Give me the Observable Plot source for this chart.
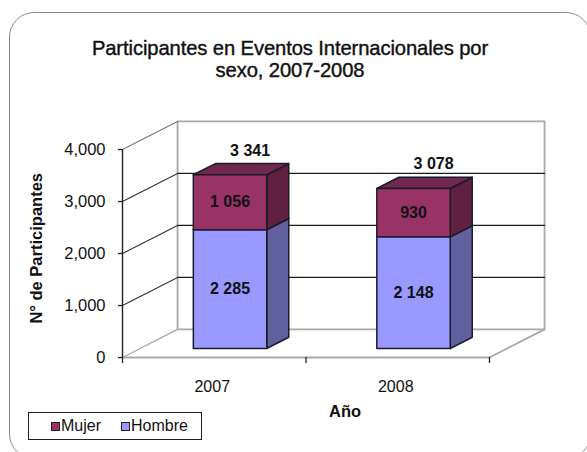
<!DOCTYPE html>
<html>
<head>
<meta charset="utf-8">
<script src="https://cdn.jsdelivr.net/npm/d3@7"></script>
<script src="https://cdn.jsdelivr.net/npm/@observablehq/plot@0.6"></script>
<style>
html,body{margin:0;padding:0;background:#fff;}
#page{position:relative;width:587px;height:452px;overflow:hidden;font-family:"Liberation Sans",Arial,sans-serif;color:#111;}
#frame{position:absolute;left:9px;top:12px;width:582px;height:447px;border:1.5px solid #8c8c8c;border-radius:25px;box-sizing:border-box;}
#title{position:relative;height:85px;box-sizing:border-box;padding-top:37px;text-align:center;font-size:20.2px;line-height:22px;font-weight:400;letter-spacing:-0.1px;-webkit-text-stroke:0.4px #111;}
#title div{width:580px;}
svg{display:block;position:relative;}
#legend{position:absolute;left:28px;top:412px;width:174px;height:28px;box-sizing:border-box;border:1.5px solid #222;background:#fff;display:flex;align-items:center;padding-left:22px;gap:20px;font-size:16px;}
#legend span.k{display:inline-flex;align-items:center;}
#legend i{display:inline-block;width:7px;height:7px;border:1.5px solid #222;margin-right:1px;}
</style>
</head>
<body>
<div id="page">
  <div id="frame"></div>
  <div id="title"></div>
  <div id="chart"></div>
  <div id="legend"></div>
</div>
<script>
const titleLines = ["Participantes en Eventos Internacionales por", "sexo, 2007-2008"];
const years = ["2007", "2008"];
const hombre = [2285, 2148];
const mujer = [1056, 930];
const totals = [3341, 3078];
const yTicks = [0, 1000, 2000, 3000, 4000];
const xEdges = [0, 1, 2];
const legendItems = [["Mujer", "#993366"], ["Hombre", "#9999ff"]];
const yLabel = "N° de Participantes";
const xLabel = "Año";

// oblique 3-D projection, in data units
const shearX = 0.30, shearY = 540;
const P = (c, v, d) => ({x: c + d * shearX, y: v + d * shearY});
const fmt = d3.formatLocale({decimal: ".", thousands: " ", grouping: [3], currency: ["", ""]}).format(",");

const barFrom = 0.29, barTo = 0.69, dFront = 0.32, dBack = 0.72;
const line = (pts, o) => Plot.line(pts, {x: "x", y: "y", ...o});
const wallColor = "#a8a8a8", gridColor = "#1c1c1c";

function box(i, v0, v1, front, side, top) {
  const a = i + barFrom, b = i + barTo, s = {stroke: "#1b1b2b", strokeWidth: 1.5};
  return [
    line([P(b, v0, dFront), P(b, v0, dBack), P(b, v1, dBack), P(b, v1, dFront), P(b, v0, dFront)], {fill: side, ...s}),
    line([P(a, v1, dFront), P(a, v1, dBack), P(b, v1, dBack), P(b, v1, dFront), P(a, v1, dFront)], {fill: top, ...s}),
    line([P(a, v0, dFront), P(b, v0, dFront), P(b, v1, dFront), P(a, v1, dFront), P(a, v0, dFront)], {fill: front, ...s})
  ];
}

const marks = [];
// walls and floor
marks.push(line([P(0, 0, 1), P(0, 4000, 1), P(2, 4000, 1), P(2, 0, 1), P(0, 0, 1)], {stroke: wallColor, strokeWidth: 1.8}));
marks.push(line([P(0, 0, 0), P(2, 0, 0), P(2, 0, 1)], {stroke: wallColor, strokeWidth: 1.8}));
marks.push(line([P(0, 0, 0), P(0, 0, 1)], {stroke: wallColor, strokeWidth: 1.3}));
// gridlines
for (const t of yTicks.slice(1)) {
  marks.push(line([P(0, t, 0), P(0, t, 1)], {stroke: t === 4000 ? "#777" : "#333", strokeWidth: 1.1}));
  if (t < 4000) marks.push(line([P(0, t, 1), P(2, t, 1)], {stroke: gridColor, strokeWidth: 1.2}));
}
// bars
years.forEach((y, i) => {
  marks.push(...box(i, 0, hombre[i], "#9999ff", "#60609f", "#7a7acc"));
  marks.push(...box(i, hombre[i], hombre[i] + mujer[i], "#993366", "#602040", "#70284e"));
});
// axes
marks.push(Plot.ruleX([0], {y1: 0, y2: 4000, stroke: "#222", strokeWidth: 1.4}));
marks.push(Plot.axisY({ticks: yTicks, tickFormat: d3.format(","), label: null, tickSize: 4, tickPadding: 13, fontSize: 16.5, stroke: "#222", strokeWidth: 1.3}));
marks.push(Plot.axisX({ticks: xEdges, tickFormat: () => "", label: null, tickSize: 6, stroke: "#222", strokeWidth: 1.3}));
// value labels
const lblFont = {fontSize: 16, fontWeight: 700, fill: "#111", fontFamily: "Liberation Sans"};
const mid = i => i + (barFrom + barTo) / 2;
const lab = years.flatMap((y, i) => [
  {...P(mid(i), hombre[i] / 2, dFront), t: fmt(hombre[i])},
  {...P(mid(i), hombre[i] + mujer[i] / 2, dFront), t: fmt(mujer[i])}
]);
marks.push(Plot.text(lab, {x: "x", y: "y", text: "t", ...lblFont}));
marks.push(Plot.text(years.map((y, i) => ({...P(mid(i), totals[i], dBack), t: fmt(totals[i])})),
  {x: "x", y: "y", text: "t", dy: -13, dx: -2, ...lblFont}));
// category labels and axis titles
marks.push(Plot.text(years, {x: (d, i) => i + 0.5, y: () => 0, text: d => d, dy: 29, dx: -2, fontSize: 16, fill: "#111", fontFamily: "Liberation Sans"}));
marks.push(Plot.text([xLabel], {x: () => 1.213, y: () => 0, text: d => d, dy: 54, fontSize: 16.5, fontWeight: 700, fill: "#111", fontFamily: "Liberation Sans"}));
marks.push(Plot.text([yLabel], {x: () => 0, y: () => 2100, text: d => d, dx: -86, rotate: -90, fontSize: 16.5, fontWeight: 700, fill: "#111", fontFamily: "Liberation Sans"}));

const chart = Plot.plot({
  width: 587,
  height: 367,
  marginLeft: 122,
  marginRight: 98,
  marginTop: 64,
  marginBottom: 95,
  style: {background: "transparent", fontFamily: "Liberation Sans", color: "#111"},
  x: {domain: [0, 2], axis: null},
  y: {domain: [0, 4000], axis: null},
  marks
});
document.getElementById("chart").append(chart);

document.getElementById("title").innerHTML = titleLines.map(t => `<div>${t}</div>`).join("");
document.getElementById("legend").innerHTML = legendItems
  .map(([n, c]) => `<span class="k"><i style="background:${c}"></i>${n}</span>`).join("");
</script>
</body>
</html>
